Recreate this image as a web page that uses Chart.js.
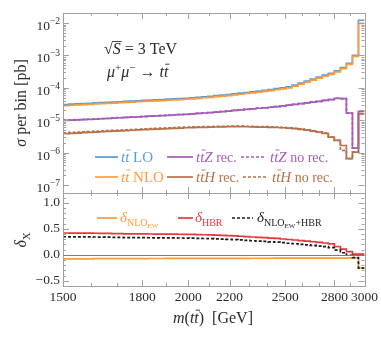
<!DOCTYPE html>
<html>
<head>
<meta charset="utf-8">
<script src="https://cdn.jsdelivr.net/npm/chart.js@4.4.1/dist/chart.umd.min.js"></script>
<style>
  html, body { margin: 0; padding: 0; background: #fff; }
</style>
</head>
<body>
<canvas id="chart" width="381" height="338"></canvas>
<script>
// bin edges in m(tt) [GeV] (log-spaced bins between 1500 and 3000)
var binEdges = [1500, 1520.9, 1542.2, 1563.7, 1585.5, 1607.7, 1630.1, 1652.9, 1675.9, 1699.3,
  1723.1, 1747.1, 1771.5, 1796.2, 1821.3, 1846.7, 1872.5, 1898.6, 1925.1, 1952.0,
  1979.3, 2006.9, 2034.9, 2063.3, 2092.1, 2121.3, 2150.9, 2180.9, 2211.3, 2242.2,
  2273.6, 2305.3, 2337.4, 2370.1, 2403.1, 2436.8, 2470.7, 2505.2, 2540.1, 2575.6,
  2611.7, 2648.1, 2685.0, 2722.5, 2760.5, 2799.1, 2838.1, 2877.7, 2917.9, 2958.6, 3000];

// sigma per bin [pb]
var ttLO = [3.05e-5, 3.12e-5, 3.18e-5, 3.25e-5, 3.32e-5, 3.42e-5, 3.49e-5, 3.56e-5, 3.64e-5, 3.72e-5,
  3.80e-5, 3.88e-5, 3.99e-5, 4.07e-5, 4.17e-5, 4.26e-5, 4.35e-5, 4.47e-5, 4.57e-5, 4.67e-5,
  4.77e-5, 4.90e-5, 5.08e-5, 5.30e-5, 5.48e-5, 5.73e-5, 5.97e-5, 6.22e-5, 6.55e-5, 6.82e-5,
  7.18e-5, 7.48e-5, 7.87e-5, 8.32e-5, 8.81e-5, 9.38e-5, 1.00e-4, 1.07e-4, 1.22e-4, 1.39e-4,
  1.61e-4, 1.85e-4, 2.13e-4, 2.45e-4, 2.82e-4, 3.32e-4, 4.20e-4, 5.70e-4, 1.00e-3, 1.22e-2];
var ttNLO = [2.84e-5, 2.90e-5, 2.96e-5, 3.02e-5, 3.09e-5, 3.18e-5, 3.25e-5, 3.31e-5, 3.39e-5, 3.46e-5,
  3.53e-5, 3.61e-5, 3.71e-5, 3.79e-5, 3.88e-5, 3.96e-5, 4.05e-5, 4.16e-5, 4.25e-5, 4.34e-5,
  4.44e-5, 4.56e-5, 4.72e-5, 4.93e-5, 5.10e-5, 5.33e-5, 5.55e-5, 5.78e-5, 6.09e-5, 6.34e-5,
  6.68e-5, 6.96e-5, 7.32e-5, 7.74e-5, 8.19e-5, 8.72e-5, 9.30e-5, 9.95e-5, 1.13e-4, 1.29e-4,
  1.50e-4, 1.72e-4, 1.98e-4, 2.28e-4, 2.62e-4, 3.09e-4, 3.91e-4, 5.30e-4, 9.30e-4, 9.70e-3];
var ttZrec = [9.9e-6, 1.01e-5, 1.03e-5, 1.05e-5, 1.06e-5, 1.08e-5, 1.11e-5, 1.13e-5, 1.16e-5, 1.19e-5,
  1.22e-5, 1.25e-5, 1.27e-5, 1.30e-5, 1.33e-5, 1.36e-5, 1.39e-5, 1.42e-5, 1.45e-5, 1.49e-5,
  1.52e-5, 1.57e-5, 1.62e-5, 1.67e-5, 1.72e-5, 1.77e-5, 1.85e-5, 1.92e-5, 2.00e-5, 2.08e-5,
  2.17e-5, 2.25e-5, 2.34e-5, 2.42e-5, 2.51e-5, 2.61e-5, 2.76e-5, 2.92e-5, 3.08e-5, 3.25e-5,
  3.42e-5, 3.61e-5, 3.80e-5, 4.07e-5, 4.35e-5, 4.77e-5, 4.66e-5, 1.67e-5, 1.37e-6, 1.87e-5];
var ttZnoRec = [1.0e-5, 1.02e-5, 1.04e-5, 1.06e-5, 1.07e-5, 1.09e-5, 1.12e-5, 1.14e-5, 1.17e-5, 1.20e-5,
  1.23e-5, 1.26e-5, 1.28e-5, 1.31e-5, 1.34e-5, 1.37e-5, 1.40e-5, 1.43e-5, 1.46e-5, 1.50e-5,
  1.53e-5, 1.58e-5, 1.63e-5, 1.68e-5, 1.73e-5, 1.78e-5, 1.86e-5, 1.93e-5, 2.01e-5, 2.09e-5,
  2.18e-5, 2.26e-5, 2.35e-5, 2.43e-5, 2.52e-5, 2.62e-5, 2.77e-5, 2.93e-5, 3.09e-5, 3.26e-5,
  3.43e-5, 3.62e-5, 3.81e-5, 4.08e-5, 4.36e-5, 4.75e-5, 4.62e-5, 1.65e-5, 1.37e-6, 1.87e-5];
var ttHrec = [3.83e-6, 3.93e-6, 4.02e-6, 4.12e-6, 4.21e-6, 4.31e-6, 4.41e-6, 4.50e-6, 4.60e-6, 4.70e-6,
  4.80e-6, 4.90e-6, 5.00e-6, 5.10e-6, 5.20e-6, 5.30e-6, 5.41e-6, 5.52e-6, 5.63e-6, 5.74e-6,
  5.85e-6, 5.92e-6, 5.99e-6, 6.05e-6, 6.12e-6, 6.18e-6, 6.23e-6, 6.28e-6, 6.32e-6, 6.31e-6,
  6.28e-6, 6.22e-6, 6.16e-6, 6.10e-6, 6.03e-6, 5.95e-6, 5.85e-6, 5.70e-6, 5.50e-6, 5.25e-6,
  4.95e-6, 4.62e-6, 4.28e-6, 3.94e-6, 2.99e-6, 2.37e-6, 1.66e-6, 6.5e-7, 1.04e-6, 1.56e-5];
var ttHnoRec = [4.10e-6, 4.20e-6, 4.29e-6, 4.39e-6, 4.48e-6, 4.58e-6, 4.68e-6, 4.77e-6, 4.87e-6, 4.97e-6,
  5.07e-6, 5.17e-6, 5.27e-6, 5.37e-6, 5.47e-6, 5.57e-6, 5.68e-6, 5.79e-6, 5.90e-6, 6.01e-6,
  6.12e-6, 6.19e-6, 6.26e-6, 6.32e-6, 6.39e-6, 6.45e-6, 6.50e-6, 6.55e-6, 6.58e-6, 6.56e-6,
  6.52e-6, 6.45e-6, 6.38e-6, 6.30e-6, 6.22e-6, 6.12e-6, 6.00e-6, 5.84e-6, 5.63e-6, 5.37e-6,
  5.06e-6, 4.72e-6, 4.36e-6, 4.00e-6, 3.02e-6, 2.38e-6, 1.17e-6, 6.5e-7, 1.04e-6, 1.56e-5];

// relative corrections delta_X
var dNLOEW = [-0.078, -0.077, -0.077, -0.076, -0.076, -0.075, -0.075, -0.074, -0.074, -0.073,
  -0.073, -0.072, -0.072, -0.072, -0.071, -0.071, -0.071, -0.070, -0.070, -0.070,
  -0.069, -0.069, -0.069, -0.068, -0.068, -0.068, -0.068, -0.067, -0.067, -0.067,
  -0.067, -0.066, -0.066, -0.066, -0.066, -0.065, -0.065, -0.065, -0.065, -0.064,
  -0.064, -0.064, -0.064, -0.063, -0.063, -0.063, -0.062, -0.058, -0.060, -0.250];
var dHBR = [0.420, 0.419, 0.418, 0.417, 0.416, 0.415, 0.413, 0.411, 0.409, 0.407,
  0.405, 0.404, 0.403, 0.402, 0.401, 0.400, 0.399, 0.398, 0.397, 0.396,
  0.395, 0.392, 0.389, 0.386, 0.383, 0.380, 0.375, 0.370, 0.365, 0.358,
  0.350, 0.343, 0.337, 0.330, 0.322, 0.315, 0.305, 0.295, 0.285, 0.275,
  0.265, 0.252, 0.240, 0.228, 0.210, 0.160, 0.110, 0.060, 0.013, 0.013];
var dNLOEWHBR = [0.348, 0.347, 0.346, 0.345, 0.344, 0.343, 0.341, 0.339, 0.337, 0.335,
  0.333, 0.332, 0.331, 0.330, 0.329, 0.328, 0.327, 0.326, 0.325, 0.324,
  0.323, 0.320, 0.317, 0.314, 0.311, 0.308, 0.303, 0.298, 0.293, 0.286,
  0.278, 0.271, 0.265, 0.258, 0.250, 0.243, 0.233, 0.223, 0.213, 0.203,
  0.193, 0.180, 0.168, 0.156, 0.138, 0.090, 0.040, -0.008, -0.052, -0.255];

var xTickLabels = [1500, 1800, 2000, 2200, 2500, 2800, 3000];
var xMinorTicks = [1600, 1700, 1900, 2100, 2300, 2400, 2600, 2700, 2900];
var sigmaTicks = [1e-7, 1e-6, 1e-5, 1e-4, 1e-3, 1e-2];
var deltaTicks = [-0.5, 0, 0.5, 1.0];

var SERIF = "'Liberation Serif', 'DejaVu Serif', serif";
var C = {
  blue: '#5b9bd5', orange: '#ff9b38', purple: '#a45cb8', brown: '#b7714a',
  red: '#e4393c', black: '#1a1a1a', frame: '#a0a0a0', text: '#2b2b2b'
};

function hist(vals) {
  var pts = vals.map(function(v, i) { return { x: binEdges[i], y: v }; });
  pts.push({ x: binEdges[binEdges.length - 1], y: vals[vals.length - 1] });
  return pts;
}

function histSet(vals, color, axis, dashed, order) {
  return {
    data: hist(vals),
    yAxisID: axis,
    borderColor: color,
    borderWidth: 1.7,
    borderDash: dashed ? [3, 2] : [],
    stepped: 'before',
    pointRadius: 0,
    fill: false,
    order: order
  };
}

// rich text helper: parts = [{t, it, size, dy, bar}]
function rich(ctx, parts, x, y, align, color) {
  var w = 0;
  var items = parts.map(function(p) {
    var size = p.size || 15;
    var font = (p.it ? 'italic ' : '') + size + 'px ' + SERIF;
    ctx.font = font;
    var pw = ctx.measureText(p.t).width;
    var item = { p: p, font: font, size: size, pw: pw, off: w };
    w += pw + (p.kern || 0);
    return item;
  });
  var x0 = align === 'center' ? x - w / 2 : (align === 'right' ? x - w : x);
  items.forEach(function(it) {
    ctx.font = it.font;
    ctx.fillStyle = color;
    var tx = x0 + it.off, ty = y + (it.p.dy || 0);
    ctx.fillText(it.p.t, tx, ty);
    if (it.p.bar) {
      ctx.save();
      ctx.strokeStyle = color;
      ctx.lineWidth = 0.9;
      ctx.beginPath();
      var by = ty - it.size * 0.8;
      ctx.moveTo(tx + 1.2, by);
      ctx.lineTo(tx + it.pw + 1.2, by);
      ctx.stroke();
      ctx.restore();
    }
  });
  return w;
}

function tt(extra, size) {
  var a = [{ t: 't', it: true, size: size }, { t: 't', it: true, bar: true, size: size }];
  return a.concat(extra || []);
}

var decor = {
  id: 'decor',
  afterDatasetsDraw: function(chart) {
    var ctx = chart.ctx;
    var sx = chart.scales.x, sT = chart.scales.ySigma, sR = chart.scales.yRatio;
    var L = sx.left, R = sx.right;
    ctx.save();
    ctx.strokeStyle = C.frame;
    ctx.lineWidth = 1;
    [sT, sR].forEach(function(s) {
      ctx.strokeRect(Math.round(L) + 0.5, Math.round(s.top) + 0.5, Math.round(R - L), Math.round(s.bottom - s.top));
    });
    function hTick(v, len, top, bottom) {
      var px = Math.round(sx.getPixelForValue(v)) + 0.5;
      ctx.moveTo(px, bottom); ctx.lineTo(px, bottom - len);
      ctx.moveTo(px, top); ctx.lineTo(px, top + len);
    }
    function vTick(s, v, len) {
      var py = Math.round(s.getPixelForValue(v)) + 0.5;
      ctx.moveTo(L, py); ctx.lineTo(L + len, py);
      ctx.moveTo(R, py); ctx.lineTo(R - len, py);
    }
    ctx.beginPath();
    [sT, sR].forEach(function(s) {
      xTickLabels.forEach(function(v) { hTick(v, 6, s.top, s.bottom); });
      xMinorTicks.forEach(function(v) { hTick(v, 3, s.top, s.bottom); });
    });
    sigmaTicks.forEach(function(d) {
      vTick(sT, d, 6);
      for (var k = 2; k <= 9; k++) {
        var v = d * k;
        if (v < sT.max) vTick(sT, v, 3);
      }
    });
    for (var k = -6; k <= 11; k++) {
      var v = k / 10;
      if (k % 5 === 0) vTick(sR, v, 6); else vTick(sR, v, 3);
    }
    ctx.stroke();

    // zero line of the ratio panel
    ctx.strokeStyle = '#7d7d7d';
    ctx.beginPath();
    var y0 = Math.round(sR.getPixelForValue(0)) + 0.5;
    ctx.moveTo(L, y0); ctx.lineTo(R, y0);
    ctx.stroke();

    // log-axis labels 10^n
    ctx.textBaseline = 'alphabetic';
    sigmaTicks.forEach(function(d) {
      var py = sT.getPixelForValue(d);
      var e = Math.round(Math.log10(d));
      rich(ctx, [{ t: '10', size: 13.5 }, { t: '\u2212' + Math.abs(e), size: 9.5, dy: -6 }], L - 3, py + 7, 'right', C.text);
    });

    // axis titles
    ctx.save();
    ctx.translate(21, 103);
    ctx.rotate(-Math.PI / 2);
    rich(ctx, [{ t: '\u03c3', it: true, size: 16 }, { t: ' per bin [pb]', size: 16 }], 0, 5, 'center', C.text);
    ctx.restore();
    ctx.save();
    ctx.translate(21, 240);
    ctx.rotate(-Math.PI / 2);
    rich(ctx, [{ t: '\u03b4', it: true, size: 16 }, { t: 'X', size: 10.5, dy: 4 }], 0, 5, 'center', C.text);
    ctx.restore();
    rich(ctx, [{ t: 'm', it: true, size: 16 }, { t: '(', size: 16 }].concat(tt([{ t: ')', size: 16 }, { t: '  [GeV]', size: 16 }], 16)),
      213, 323, 'center', C.text);

    // process labels
    var sw = rich(ctx, [{ t: '\u221a', size: 16 }], 104, 54, 'left', C.text);
    var sW = rich(ctx, [{ t: 'S', it: true, size: 16 }], 104 + sw, 54, 'left', C.text);
    ctx.strokeStyle = C.text;
    ctx.lineWidth = 0.9;
    ctx.beginPath();
    ctx.moveTo(104 + sw - 0.5, 41.5); ctx.lineTo(104 + sw + sW + 1, 41.5);
    ctx.stroke();
    rich(ctx, [{ t: ' = 3 TeV', size: 16 }], 104 + sw + sW, 54, 'left', C.text);
    rich(ctx, [{ t: '\u03bc', it: true, size: 16 }, { t: '+', size: 11, dy: -6 }, { t: '\u03bc', it: true, size: 16 },
      { t: '\u2212', size: 11, dy: -6 }, { t: ' \u2192 ', size: 16 }].concat(tt([], 16)), 107, 77, 'left', C.text);

    // legend, upper panel
    function legLine(x1, x2, y, color, dashed) {
      ctx.save();
      ctx.strokeStyle = color;
      ctx.lineWidth = 1.7;
      ctx.setLineDash(dashed ? [3, 2] : []);
      ctx.beginPath();
      ctx.moveTo(x1, y); ctx.lineTo(x2, y);
      ctx.stroke();
      ctx.restore();
    }
    legLine(95, 118, 157, C.blue, false);
    rich(ctx, tt([{ t: ' LO' }]), 121, 162, 'left', C.blue);
    legLine(167, 193, 157, C.purple, false);
    rich(ctx, tt([{ t: 'Z', it: true }, { t: ' rec.', size: 14 }]), 196, 162, 'left', C.purple);
    legLine(241, 266, 157, C.purple, true);
    rich(ctx, tt([{ t: 'Z', it: true }, { t: ' no rec.', size: 14 }]), 270, 162, 'left', C.purple);
    legLine(95, 118, 177, C.orange, false);
    rich(ctx, tt([{ t: ' NLO' }]), 121, 182, 'left', C.orange);
    legLine(167, 193, 177, C.brown, false);
    rich(ctx, tt([{ t: 'H', it: true }, { t: ' rec.', size: 14 }]), 196, 182, 'left', C.brown);
    legLine(243, 268, 177, C.brown, true);
    rich(ctx, tt([{ t: 'H', it: true }, { t: ' no rec.', size: 14 }]), 272, 182, 'left', C.brown);

    // legend, lower panel
    legLine(97, 117, 218, C.orange, false);
    rich(ctx, [{ t: '\u03b4', it: true, size: 15 }, { t: 'NLO', size: 10, dy: 4 }, { t: 'EW', size: 7, dy: 6 }], 120, 222, 'left', C.orange);
    legLine(178, 193, 218, C.red, false);
    rich(ctx, [{ t: '\u03b4', it: true, size: 15 }, { t: 'HBR', size: 10, dy: 4 }], 195, 222, 'left', C.red);
    legLine(232, 253, 218, C.black, true);
    rich(ctx, [{ t: '\u03b4', it: true, size: 15 }, { t: 'NLO', size: 10, dy: 4 }, { t: 'EW', size: 7, dy: 6 },
      { t: '+HBR', size: 10, dy: 4 }], 257, 222, 'left', C.black);
    ctx.restore();
  }
};

var tickFont = { family: SERIF, size: 13.5 };

new Chart(document.getElementById('chart'), {
  type: 'line',
  data: {
    datasets: [
      histSet(ttNLO, C.orange, 'ySigma', false, 1),
      histSet(ttLO, C.blue, 'ySigma', false, 2),
      histSet(ttZnoRec, C.purple, 'ySigma', true, 1),
      histSet(ttZrec, C.purple, 'ySigma', false, 2),
      histSet(ttHnoRec, C.brown, 'ySigma', true, 1),
      histSet(ttHrec, C.brown, 'ySigma', false, 2),
      histSet(dNLOEWHBR, C.black, 'yRatio', true, 0),
      histSet(dNLOEW, C.orange, 'yRatio', false, 1),
      histSet(dHBR, C.red, 'yRatio', false, 1)
    ]
  },
  options: {
    responsive: false,
    animation: false,
    layout: { padding: { top: 13, right: 16, left: 0, bottom: 0 } },
    plugins: { legend: { display: false }, tooltip: { enabled: false } },
    scales: {
      x: {
        type: 'logarithmic',
        min: 1500,
        max: 3000,
        grid: { display: false, drawTicks: false },
        border: { display: false },
        afterBuildTicks: function(s) { s.ticks = xTickLabels.map(function(v) { return { value: v }; }); },
        afterFit: function(s) { s.height = 52; },
        ticks: {
          font: tickFont, color: C.text, padding: 3, maxRotation: 0, autoSkip: false,
          callback: function(v) { return String(v); }
        }
      },
      yRatio: {
        type: 'linear',
        position: 'left',
        stack: 'panels',
        stackWeight: 93,
        min: -0.6,
        max: 1.19,
        grid: { display: false, drawTicks: false },
        border: { display: false },
        afterBuildTicks: function(s) { s.ticks = deltaTicks.map(function(v) { return { value: v }; }); },
        afterFit: function(s) { s.width = 63; },
        ticks: {
          font: tickFont, color: C.text, padding: 3, autoSkip: false,
          callback: function(v) { return (v < 0 ? '\u2212' : '') + Math.abs(v).toFixed(1); }
        }
      },
      ySigma: {
        type: 'logarithmic',
        position: 'left',
        stack: 'panels',
        stackWeight: 180,
        min: Math.pow(10, -7.247),
        max: Math.pow(10, -1.69),
        grid: { display: false, drawTicks: false },
        border: { display: false },
        afterBuildTicks: function(s) { s.ticks = sigmaTicks.map(function(v) { return { value: v }; }); },
        afterFit: function(s) { s.width = 63; },
        ticks: { display: false }
      }
    }
  },
  plugins: [decor]
});
</script>
</body>
</html>
